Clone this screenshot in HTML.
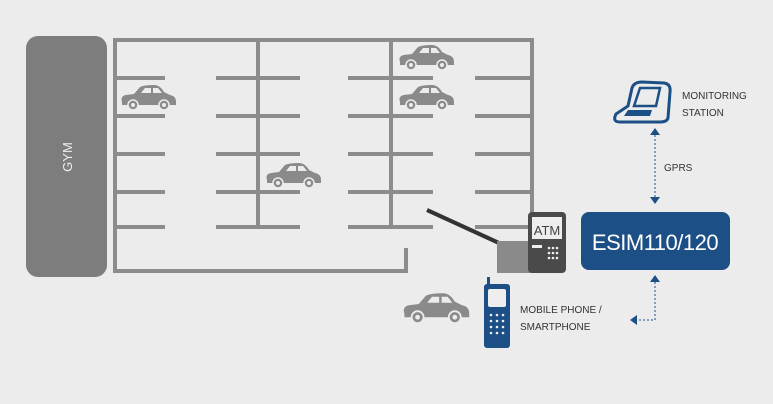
<!DOCTYPE html>
<html><head><style>
body{margin:0;background:#ececec;}
svg{display:block}
text{font-family:"Liberation Sans",sans-serif}
</style></head><body>
<svg width="773" height="404" viewBox="0 0 773 404">
<defs>
<g id="car">
<path d="M2,18 Q0,12 6,11 L14,10 L20,3 Q24,1 34,1 Q40,1 44,8 L50,11 Q56,12 56,18 L56,21 L2,21 Z" fill="#8a8a8a"/>
<path d="M21,9 L25,4 L31,4 L31,9 Z M33,4 L38,4 L42,9 L33,9 Z" fill="#ececec"/>
<circle cx="13" cy="21" r="5" fill="#8a8a8a" stroke="#ececec" stroke-width="1.5"/>
<circle cx="44" cy="21" r="5" fill="#8a8a8a" stroke="#ececec" stroke-width="1.5"/>
<circle cx="13" cy="21" r="2" fill="#ececec"/><circle cx="44" cy="21" r="2" fill="#ececec"/>
</g>
</defs>
<rect x="26" y="36" width="81" height="241" rx="12" fill="#7d7d7d"/>
<text x="0" y="0" transform="translate(72,157) rotate(-90)" text-anchor="middle" fill="#eee" font-size="13">GYM</text>
<g stroke="#8c8c8c" stroke-width="4" fill="none">
<path d="M532,225 L532,40 L115,40 L115,271 L406,271 L406,248"/>
<line x1="258" y1="40" x2="258" y2="227"/>
<line x1="391" y1="40" x2="391" y2="227"/>
<g id="rows">
<line x1="115" y1="78" x2="165" y2="78"/><line x1="216" y1="78" x2="300" y2="78"/><line x1="348" y1="78" x2="433" y2="78"/><line x1="475" y1="78" x2="530" y2="78"/>
</g>
<use href="#rows" y="38"/><use href="#rows" y="76"/><use href="#rows" y="114"/><use href="#rows" y="149"/>
</g>
<use href="#car" x="120" y="84"/>
<use href="#car" x="265" y="162"/>
<use href="#car" x="398" y="44"/>
<use href="#car" x="398" y="84"/>
<use href="#car" transform="translate(402,292) scale(1.2)"/>
<line x1="427" y1="210" x2="499" y2="243" stroke="#333" stroke-width="4"/>
<rect x="497" y="241" width="34" height="32" fill="#8a8a8a"/>
<rect x="528" y="212" width="38" height="61" rx="4" fill="#4a4a4a"/>
<rect x="532" y="217" width="30" height="22" fill="#eee"/>
<text x="547" y="235" text-anchor="middle" font-size="13" fill="#444">ATM</text>
<rect x="532" y="245" width="10" height="3" fill="#eee"/>
<g fill="#eee">
<circle cx="549" cy="248" r="1.3"/><circle cx="553" cy="248" r="1.3"/><circle cx="557" cy="248" r="1.3"/>
<circle cx="549" cy="253" r="1.3"/><circle cx="553" cy="253" r="1.3"/><circle cx="557" cy="253" r="1.3"/>
<circle cx="549" cy="258" r="1.3"/><circle cx="553" cy="258" r="1.3"/><circle cx="557" cy="258" r="1.3"/></g>
<!-- laptop -->
<path d="M632,88 Q634,82 642,82 L664,83 Q671,84 670,92 L668,118 Q667,122 660,122 L620,122 Q612,122 616,114 L628,106 Z" fill="none" stroke="#1c4f86" stroke-width="3"/>
<path d="M640,88 L660,88 L656,106 L634,106 Z" fill="none" stroke="#1c4f86" stroke-width="2.5"/>
<path d="M628,110 L652,110 L650,116 L624,116 Z" fill="#1c4f86"/>
<text x="682" y="99" font-size="10" fill="#333">MONITORING</text>
<text x="682" y="116" font-size="10" fill="#333">STATION</text>
<path d="M650,135 L655,128 L660,135 Z M650,197 L655,204 L660,197 Z" fill="#1c4f86"/>
<line x1="655" y1="135" x2="655" y2="197" stroke="#1c4f86" stroke-dasharray="2,2"/>
<text x="664" y="171" font-size="10" fill="#333">GPRS</text>
<rect x="581" y="212" width="149" height="58" rx="8" fill="#1c4f86"/>
<text x="655" y="250" text-anchor="middle" font-size="22" fill="#fff" letter-spacing="-0.5">ESIM110/120</text>
<path d="M650,282 L655,275 L660,282 Z M637,315 L630,320 L637,325 Z" fill="#1c4f86"/>
<path d="M655,282 L655,320 L637,320" fill="none" stroke="#1c4f86" stroke-dasharray="2,2"/>
<!-- phone -->
<rect x="487" y="277" width="3" height="8" fill="#1c4f86"/>
<rect x="484" y="284" width="26" height="64" rx="3" fill="#1c4f86"/>
<rect x="488" y="289" width="18" height="18" rx="2" fill="#eee"/>
<g fill="#eee">
<circle cx="491" cy="315" r="1.3"/><circle cx="497" cy="315" r="1.3"/><circle cx="503" cy="315" r="1.3"/>
<circle cx="491" cy="321" r="1.3"/><circle cx="497" cy="321" r="1.3"/><circle cx="503" cy="321" r="1.3"/>
<circle cx="491" cy="327" r="1.3"/><circle cx="497" cy="327" r="1.3"/><circle cx="503" cy="327" r="1.3"/>
<circle cx="491" cy="333" r="1.3"/><circle cx="497" cy="333" r="1.3"/><circle cx="503" cy="333" r="1.3"/></g>
<text x="520" y="313" font-size="10" fill="#333">MOBILE PHONE /</text>
<text x="520" y="330" font-size="10" fill="#333">SMARTPHONE</text>
</svg>
</body></html>
